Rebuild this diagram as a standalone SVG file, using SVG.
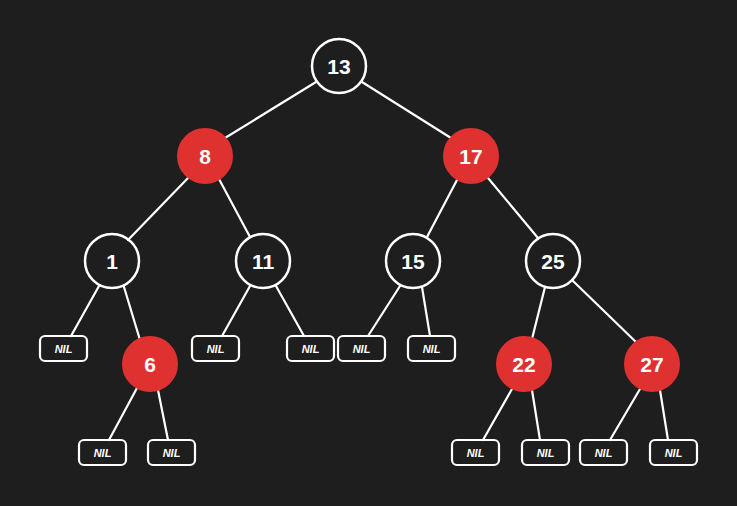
<svg xmlns="http://www.w3.org/2000/svg" width="737" height="506" viewBox="0 0 737 506">
<style>
.c{fill:none;stroke:#fff;stroke-width:2.5}
.r{fill:#e03131;stroke:#e03131;stroke-width:2}
.b{fill:none;stroke:#fff;stroke-width:2.2}
.t{font-family:"Liberation Sans",sans-serif;font-size:21px;font-weight:bold;fill:#fff;text-anchor:middle;dominant-baseline:central}
.n{font-family:"Liberation Sans",sans-serif;font-size:11px;font-style:italic;font-weight:bold;fill:#fff;text-anchor:middle;dominant-baseline:central}
#edges line{stroke:#fff;stroke-width:2.2;stroke-linecap:round}
</style>
<rect width="737" height="506" fill="#1e1e1e"/>
<g id="edges">
<line x1="316" y1="82" x2="225" y2="138"/>
<line x1="362" y1="82" x2="451" y2="138"/>
<line x1="189" y1="177" x2="128" y2="240"/>
<line x1="219" y1="179" x2="250" y2="237"/>
<line x1="457" y1="180" x2="427" y2="237"/>
<line x1="488" y1="178" x2="538" y2="238"/>
<line x1="99" y1="286" x2="71" y2="336"/>
<line x1="124" y1="287" x2="140" y2="340"/>
<line x1="250" y1="286" x2="222" y2="336"/>
<line x1="276" y1="286" x2="304" y2="336"/>
<line x1="400" y1="286" x2="368" y2="336"/>
<line x1="422" y1="287" x2="430" y2="336"/>
<line x1="545" y1="287" x2="532" y2="339"/>
<line x1="572" y1="280" x2="637" y2="343"/>
<line x1="137" y1="388" x2="109" y2="440"/>
<line x1="158" y1="390" x2="168" y2="440"/>
<line x1="512" y1="389" x2="483" y2="440"/>
<line x1="532" y1="390" x2="540" y2="440"/>
<line x1="640" y1="389" x2="610" y2="440"/>
<line x1="660" y1="390" x2="668" y2="440"/>
</g>
<g id="n13"><circle class="c" cx="339" cy="66" r="27"/><text class="t" x="339" y="66">13</text></g>
<g id="n8"><circle class="r" cx="205" cy="156" r="27"/><text class="t" x="205" y="156">8</text></g>
<g id="n17"><circle class="r" cx="471" cy="156" r="27"/><text class="t" x="471" y="156">17</text></g>
<g id="n1"><circle class="c" cx="112" cy="261" r="27"/><text class="t" x="112" y="261">1</text></g>
<g id="n11"><circle class="c" cx="263" cy="261" r="27"/><text class="t" x="263" y="261">11</text></g>
<g id="n15"><circle class="c" cx="413" cy="261" r="27"/><text class="t" x="413" y="261">15</text></g>
<g id="n25"><circle class="c" cx="553" cy="261" r="27"/><text class="t" x="553" y="261">25</text></g>
<g id="n6"><circle class="r" cx="150" cy="364" r="27"/><text class="t" x="150" y="364">6</text></g>
<g id="n22"><circle class="r" cx="524" cy="364" r="27"/><text class="t" x="524" y="364">22</text></g>
<g id="n27"><circle class="r" cx="652" cy="364" r="27"/><text class="t" x="652" y="364">27</text></g>
<g id="nil1"><rect class="b" x="40" y="336" width="47" height="25" rx="5"/><text class="n" x="63.5" y="348.5">NIL</text></g>
<g id="nil2"><rect class="b" x="192" y="336" width="47" height="25" rx="5"/><text class="n" x="215.5" y="348.5">NIL</text></g>
<g id="nil3"><rect class="b" x="287" y="336" width="47" height="25" rx="5"/><text class="n" x="310.5" y="348.5">NIL</text></g>
<g id="nil4"><rect class="b" x="338" y="336" width="47" height="25" rx="5"/><text class="n" x="361.5" y="348.5">NIL</text></g>
<g id="nil5"><rect class="b" x="408" y="336" width="47" height="25" rx="5"/><text class="n" x="431.5" y="348.5">NIL</text></g>
<g id="nil6"><rect class="b" x="79" y="440" width="47" height="25" rx="5"/><text class="n" x="102.5" y="452.5">NIL</text></g>
<g id="nil7"><rect class="b" x="148" y="440" width="47" height="25" rx="5"/><text class="n" x="171.5" y="452.5">NIL</text></g>
<g id="nil8"><rect class="b" x="452" y="440" width="47" height="25" rx="5"/><text class="n" x="475.5" y="452.5">NIL</text></g>
<g id="nil9"><rect class="b" x="522" y="440" width="47" height="25" rx="5"/><text class="n" x="545.5" y="452.5">NIL</text></g>
<g id="nil10"><rect class="b" x="580" y="440" width="47" height="25" rx="5"/><text class="n" x="603.5" y="452.5">NIL</text></g>
<g id="nil11"><rect class="b" x="650" y="440" width="47" height="25" rx="5"/><text class="n" x="673.5" y="452.5">NIL</text></g>
</svg>
